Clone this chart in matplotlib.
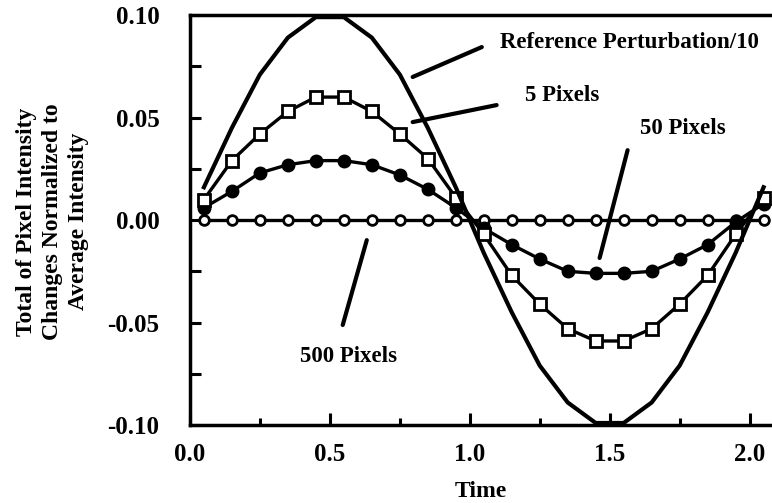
import matplotlib
matplotlib.use("Agg")
import matplotlib.pyplot as plt
from matplotlib.ticker import MultipleLocator

plt.rcParams['font.family'] = 'Liberation Serif'
plt.rcParams['font.weight'] = 'bold'

# sample times
time = [0.05, 0.15, 0.25, 0.35, 0.45, 0.55, 0.65, 0.75, 0.85, 0.95, 1.05,
        1.15, 1.25, 1.35, 1.45, 1.55, 1.65, 1.75, 1.85, 1.95, 2.05]

# reference perturbation / 10 (solid line)
ref_pert = [0.016, 0.045, 0.071, 0.089, 0.099, 0.099, 0.089, 0.071, 0.045, 0.016, -0.016,
            -0.045, -0.071, -0.089, -0.099, -0.099, -0.089, -0.071, -0.045, -0.016, 0.016]
# 5 pixels (open squares)
pix5 = [0.010, 0.029, 0.042, 0.053, 0.060, 0.060, 0.053, 0.042, 0.030, 0.011, -0.007,
        -0.027, -0.041, -0.053, -0.059, -0.059, -0.053, -0.041, -0.027, -0.007, 0.011]
# 50 pixels (filled circles)
pix50 = [0.006, 0.014, 0.023, 0.027, 0.029, 0.029, 0.027, 0.022, 0.015, 0.006, -0.004,
         -0.012, -0.019, -0.025, -0.026, -0.026, -0.025, -0.019, -0.012, -0.001, 0.008]
# 500 pixels (open circles)
pix500 = [0.000, 0.000, 0.000, 0.000, 0.000, 0.000, 0.000, 0.000, 0.000, 0.000, 0.000,
          0.000, 0.000, 0.000, 0.000, 0.000, 0.000, 0.000, 0.000, 0.000, 0.000]

fig = plt.figure(figsize=(7.72, 5.03), dpi=100)
ax = fig.add_axes([0.246, 0.155, 0.754, 0.815])

ax.plot(time, pix500, color='black', lw=2.4, marker='o', ms=7, mfc='white', mec='black', mew=2)
ax.plot(time, pix50, color='black', lw=2.4, marker='o', ms=9, mfc='black', mec='black')
ax.plot(time, pix5, color='black', lw=2.4, marker='s', ms=8.5, mfc='white', mec='black', mew=2)
ax.plot(time, ref_pert, color='black', lw=3)

ax.set_xlim(0, 2.08)
ax.set_ylim(-0.10, 0.10)
ax.xaxis.set_major_locator(MultipleLocator(0.5))
ax.xaxis.set_minor_locator(MultipleLocator(0.25))
ax.yaxis.set_major_locator(MultipleLocator(0.05))
ax.yaxis.set_minor_locator(MultipleLocator(0.025))
ax.xaxis.set_major_formatter(lambda v, p: f"{v:.1f}")
ax.yaxis.set_major_formatter(lambda v, p: f"{v:.2f}")

ax.tick_params(axis='x', which='major', direction='in', length=9, width=2.2, labelsize=18, pad=13)
ax.tick_params(axis='x', which='minor', direction='in', length=5, width=2.2)
ax.tick_params(axis='y', which='both', direction='in', length=8, width=2.2, labelsize=18, pad=22)
ax.spines['right'].set_visible(False)
for s in ['left', 'bottom', 'top']:
    ax.spines[s].set_linewidth(2.5)

ax.set_xlabel('Time', fontsize=17, fontweight='bold', labelpad=11)
fig.text(0.068, 0.56, 'Total of Pixel Intensity\nChanges Normalized to\nAverage Intensity',
         rotation=90, ha='center', va='center', fontsize=17, linespacing=1.3)

# labels with leader lines
lw_lead = 3
ax.text(1.107, 0.0868, 'Reference Perturbation/10', fontsize=16.5, va='center')
ax.annotate('', xy=(0.796, 0.0698), xytext=(1.043, 0.0844),
            arrowprops=dict(arrowstyle='-', lw=lw_lead, shrinkA=0, shrinkB=0))
ax.text(1.196, 0.061, '5 Pixels', fontsize=16.5, va='center')
ax.annotate('', xy=(0.796, 0.0478), xytext=(1.096, 0.0561),
            arrowprops=dict(arrowstyle='-', lw=lw_lead, shrinkA=0, shrinkB=0))
ax.text(1.607, 0.0449, '50 Pixels', fontsize=16.5, va='center')
ax.annotate('', xy=(1.464, -0.0185), xytext=(1.564, 0.0341),
            arrowprops=dict(arrowstyle='-', lw=lw_lead, shrinkA=0, shrinkB=0))
ax.text(0.568, -0.0668, '500 Pixels', fontsize=16.5, va='center', ha='center')
ax.annotate('', xy=(0.546, -0.0512), xytext=(0.632, -0.0098),
            arrowprops=dict(arrowstyle='-', lw=lw_lead, shrinkA=0, shrinkB=0))

fig.savefig('out.png', dpi=100)
